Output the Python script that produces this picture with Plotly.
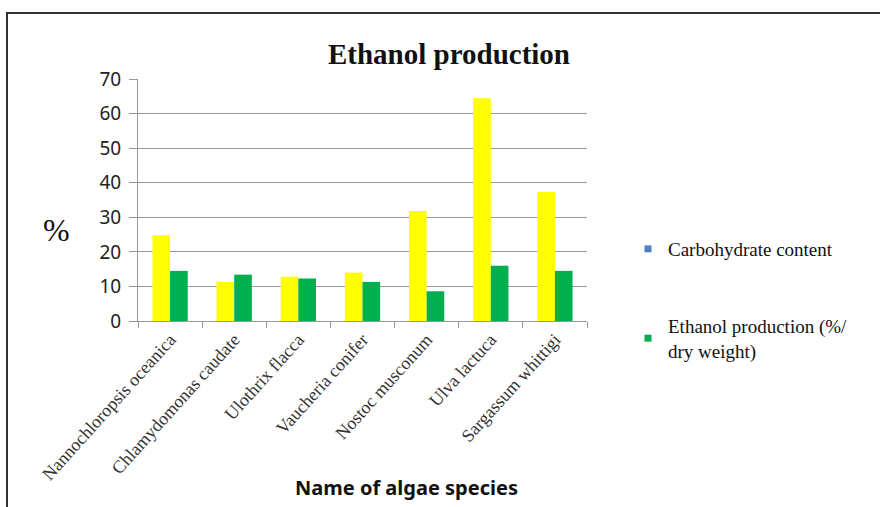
import plotly.graph_objects as go

species = ["Nannochloropsis oceanica", "Chlamydomonas caudate", "Ulothrix flacca",
           "Vaucheria conifer", "Nostoc musconum", "Ulva lactuca", "Sargassum whittigi"]
carbohydrate = [24.8, 11.3, 12.8, 14.0, 31.8, 64.4, 37.3]
ethanol = [14.5, 13.4, 12.3, 11.3, 8.6, 16.0, 14.5]
name_carb = "Carbohydrate content"
name_eth = "Ethanol production (%/<br>dry weight)"
y_ticks = [0, 10, 20, 30, 40, 50, 60, 70]

L, R, T, B = 138, 880 - 587, 79, 507 - 321
W, H = 880 - L - R, 507 - T - B

def px(x):
    return (x - L) / W

def py(y):
    return (507 - B - y) / H

fig = go.Figure()
fig.add_trace(go.Bar(x=species, y=carbohydrate, name=name_carb, marker_color="#FFFF00",
                     marker_line_width=0, showlegend=False))
fig.add_trace(go.Bar(x=species, y=ethanol, name=name_eth, marker_color="#00B050",
                     marker_line_width=0, showlegend=False))
# legend entries (swatch colours as in the reference legend)
fig.add_trace(go.Scatter(x=[None], y=[None], mode="markers", name=name_carb,
                         marker=dict(symbol="square", size=7, color="#4F81BD"), legend="legend"))
fig.add_trace(go.Scatter(x=[None], y=[None], mode="markers", name=name_eth,
                         marker=dict(symbol="square", size=7, color="#00B050"), legend="legend2"))

legend_font = dict(family="Liberation Serif", size=19, color="#111")
fig.update_layout(
    width=880, height=507,
    font=dict(family="Liberation Serif", color="#111"),
    margin=dict(l=L, r=R, t=T, b=B, autoexpand=False),
    paper_bgcolor="white", plot_bgcolor="white",
    barmode="group", bargap=0.45, bargroupgap=0,
    title=dict(text="<b>Ethanol production</b>", x=449 / 880, y=1 - 54 / 507,
               xref="container", yref="container", xanchor="center", yanchor="middle",
               font=dict(family="Liberation Serif", size=29, color="#111")),
    legend=dict(x=px(628), y=py(230), xanchor="left", yanchor="top", font=legend_font,
                bgcolor="rgba(0,0,0,0)", itemwidth=30),
    legend2=dict(x=px(628), y=py(307), xanchor="left", yanchor="top", font=legend_font,
                 bgcolor="rgba(0,0,0,0)", itemwidth=30),
    xaxis=dict(type="category", tickson="boundaries", ticks="outside", ticklen=6,
               tickcolor="#999", showline=True, linecolor="#999", linewidth=1,
               tickangle=-48, showgrid=False, automargin=False,
               tickfont=dict(family="Liberation Serif", size=18, color="#333")),
    yaxis=dict(range=[0, 70], tickvals=y_ticks, ticks="outside", ticklen=8, tickcolor="#999",
               showline=True, linecolor="#999", linewidth=1, automargin=False,
               showgrid=True, gridcolor="#999", gridwidth=1, zeroline=False,
               ticklabelstandoff=4,
               tickfont=dict(family="Noto Sans", size=19, color="#222")),
    annotations=[
        dict(text="%", x=px(56), y=py(230), xref="paper", yref="paper", showarrow=False,
             xanchor="center", yanchor="middle",
             font=dict(family="Liberation Serif", size=32, color="#111")),
        dict(text="<b>Name of algae species</b>", x=px(406), y=py(487), xref="paper", yref="paper",
             xanchor="center", yanchor="middle",
             showarrow=False, font=dict(family="Noto Sans", size=20, color="#111")),
    ],
    shapes=[dict(type="rect", xref="paper", yref="paper", x0=px(7), x1=px(886), y0=py(512), y1=py(13),
                 line=dict(color="#333", width=2), fillcolor="rgba(0,0,0,0)")],
)

fig.write_html("out.html", config={"displayModeBar": False},
               post_script="document.body.style.margin='0';")
